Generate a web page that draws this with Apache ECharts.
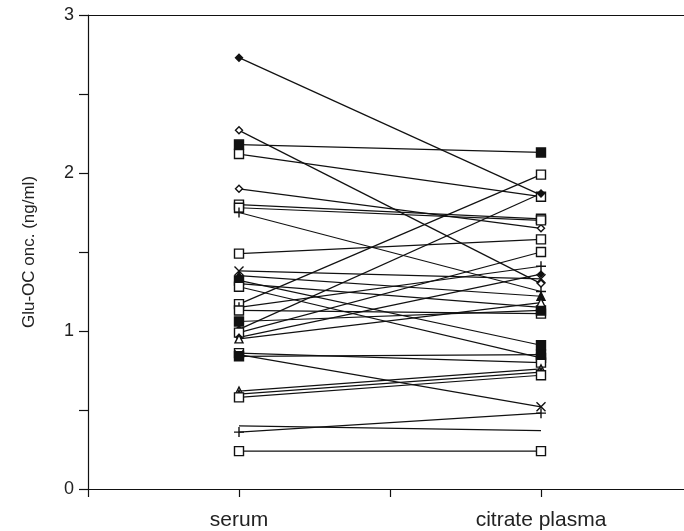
<!DOCTYPE html>
<html>
<head>
<meta charset="utf-8">
<script src="https://cdn.jsdelivr.net/npm/echarts@6/dist/echarts.min.js"></script>
<style>html,body{margin:0;padding:0;background:#fff}#c{width:684px;height:531px}</style>
</head>
<body>
<div id="c"></div>
<script>
const categories = ['serum', 'citrate plasma'];
const serum   = [2.73, 2.27, 2.18, 2.12, 1.90, 1.80, 1.78, 1.75, 1.49, 1.38, 1.35, 1.32, 1.30, 1.28, 1.17, 1.15, 1.13, 1.06, 1.01, 0.99, 0.96, 0.95, 0.86, 0.85, 0.84, 0.62, 0.60, 0.58, 0.40, 0.36, 0.24];
const citrate = [1.86, 1.30, 2.13, 1.85, 1.65, 1.71, 1.70, 1.25, 1.58, 1.33, 1.22, 0.91, 1.15, 0.83, 1.99, 1.41, 1.11, 1.13, 1.87, 1.50, 1.36, 1.18, 0.80, 0.52, 0.85, 0.76, 0.74, 0.72, 0.37, 0.48, 0.24];
const markerKinds = ['fdiamond','odiamond','frect','orect','odiamond','xrect','orect','plus','orect','cross','ftriangle','frect','fcircle','orect','orect','plus','orect','frect','fdiamond','srect','fstar','otriangle','orect','cross','frect','otriangle','ftriangle','orect','none','plus','orect'];
const yTicks = [0, 1, 2, 3];

const PLUS = 'path://M0,5L10,5M5,0L5,10';
const CROSS = 'path://M0,0L10,10M10,0L0,10';
function sym(kind) {
  const s = {symbol: 'rect', symbolSize: 9, itemStyle: {color: '#fff', borderColor: '#111', borderWidth: 1.4}};
  switch (kind) {
    case 'frect': s.itemStyle.color = '#111'; break;
    case 'orect': case 'xrect': case 'srect': break;
    case 'fdiamond': s.symbol = 'diamond'; s.itemStyle.color = '#111'; s.symbolSize = 7; break;
    case 'odiamond': s.symbol = 'diamond'; s.symbolSize = 7; break;
    case 'ftriangle': s.symbol = 'triangle'; s.itemStyle.color = '#111'; s.symbolSize = 8; break;
    case 'otriangle': s.symbol = 'triangle'; s.symbolSize = 8; break;
    case 'fcircle': s.symbol = 'circle'; s.itemStyle.color = '#111'; s.symbolSize = 6; break;
    case 'fstar': s.symbol = 'diamond'; s.itemStyle.color = '#111'; s.symbolSize = 6; break;
    case 'plus': s.symbol = PLUS; s.symbolSize = 10; s.itemStyle.color = 'none'; break;
    case 'cross': s.symbol = CROSS; s.symbolSize = 9; s.itemStyle.color = 'none'; break;
    case 'none': s.symbol = 'none'; break;
  }
  return s;
}

const series = serum.map((v, i) => {
  const s = sym(markerKinds[i]);
  return {
    type: 'line',
    xAxisIndex: 0,
    data: [[1, v], [3, citrate[i]]],
    symbol: s.symbol,
    symbolSize: s.symbolSize,
    showSymbol: true,
    itemStyle: s.itemStyle,
    lineStyle: {color: '#111', width: 1.2},
    animation: false,
    z: 3
  };
});

const chart = echarts.init(document.getElementById('c'));
chart.setOption({
  backgroundColor: '#fff',
  animation: false,
  grid: {left: 88, top: 15, width: 604, bottom: 42, outerBoundsMode: 'none', containLabel: false},
  xAxis: [{
    type: 'value', min: 0, max: 4, interval: 1,
    axisLine: {lineStyle: {color: '#111', width: 1.2}},
    axisTick: {show: true, length: 8, lineStyle: {color: '#111', width: 1.2}},
    splitLine: {show: false},
    axisLabel: {
      margin: 21, fontSize: 21, color: '#222', fontFamily: 'Liberation Sans',
      formatter: v => v === 1 ? categories[0] : (v === 3 ? categories[1] : '')
    }
  }, {
    type: 'value', position: 'top', min: 0, max: 4,
    axisLine: {show: true, lineStyle: {color: '#111', width: 1.2}},
    axisTick: {show: false}, axisLabel: {show: false}, splitLine: {show: false}
  }],
  yAxis: {
    type: 'value', min: 0, max: 3, interval: 0.5,
    name: 'Glu-OC onc. (ng/ml)', nameLocation: 'middle', nameGap: 50,
    nameTextStyle: {fontSize: 17, color: '#222', fontFamily: 'Liberation Sans'},
    axisLine: {show: true, lineStyle: {color: '#111', width: 1.2}},
    axisTick: {show: true, length: 9, lineStyle: {color: '#111', width: 1.2}},
    splitLine: {show: false},
    axisLabel: {
      margin: 14, fontSize: 18, color: '#222', fontFamily: 'Liberation Sans',
      formatter: v => yTicks.includes(v) ? String(v) : ''
    }
  },
  series: series
});
</script>
</body>
</html>
